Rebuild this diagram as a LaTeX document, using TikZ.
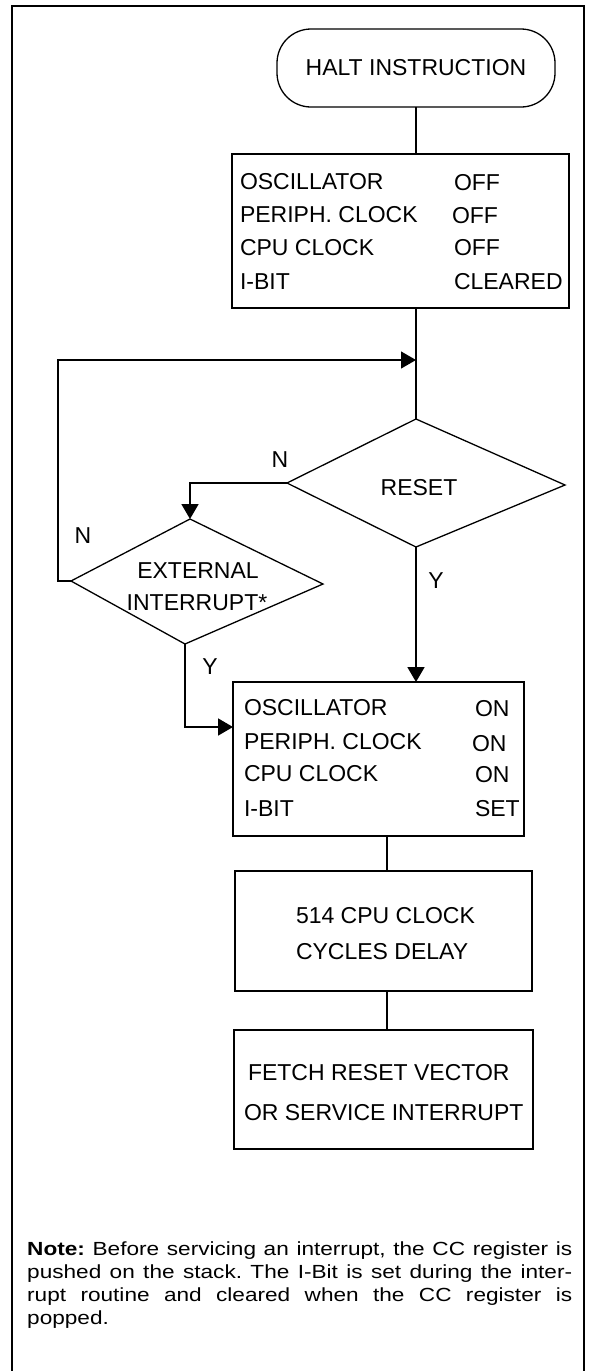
\documentclass[tikz,border=0pt]{standalone}
\usepackage{fontspec}
\setmainfont{Liberation Sans}
\newfontfamily\notefont[FakeStretch=1.19]{Liberation Sans}
\usetikzlibrary{arrows.meta}
\begin{document}
\begin{tikzpicture}[x=1pt,y=-1pt,
  txt/.style={inner sep=0pt, outer sep=0pt, font=\fontsize{23}{27}\selectfont},
  lbl/.style={txt, anchor=base west},
  ctr/.style={txt, anchor=base},
  boxs/.style={draw, line width=2pt, inner sep=0pt, outer sep=0pt},
  conn/.style={line width=1.8pt},
  arr/.style={conn, -{Triangle[length=15pt,width=17pt]}},
  dia/.style={draw, line width=1.3pt, line join=miter}
]
\useasboundingbox (0,0) rectangle (595,1371);
% frame
\draw[line width=2pt] (11.5,1371) -- (11.5,6) -- (584,6) -- (584,1371);

% terminal
\node[draw, rounded corners=34pt, line width=1.3pt, minimum width=278pt,
      minimum height=78pt, txt] (halt) at (416,68) {HALT INSTRUCTION};

% box 1
\node[boxs, minimum width=337pt, minimum height=154pt] (box1) at (400.5,231) {};
\node[lbl] (b1l1) at (240,189) {OSCILLATOR};
\node[lbl] (b1l2) at (240,222) {PERIPH. CLOCK};
\node[lbl] (b1l3) at (240,255) {CPU CLOCK};
\node[lbl] (b1l4) at (240,289) {I-BIT};
\node[lbl] (b1r1) at (454,190) {OFF};
\node[lbl] (b1r2) at (452,223) {OFF};
\node[lbl] (b1r3) at (454,255) {OFF};
\node[lbl] (b1r4) at (454,289) {CLEARED};

% merge point
\coordinate (merge) at (416,360);

% RESET diamond
\coordinate (rT) at (416,419);
\coordinate (rL) at (287,483);
\coordinate (rR) at (565,485);
\coordinate (rB) at (416,547);
\draw[dia] (rT) -- (rR) -- (rB) -- (rL) -- cycle;
\node[ctr] (resettxt) at (419,495) {RESET};

% EXTERNAL INTERRUPT diamond
\coordinate (eT) at (190,519);
\coordinate (eL) at (71,581);
\coordinate (eR) at (323,584);
\coordinate (eB) at (185,644);
\draw[dia] (eT) -- (eR) -- (eB) -- (eL) -- cycle;
\node[ctr] (exttxt1) at (198,578) {EXTERNAL};
\node[ctr] (exttxt2) at (197,610) {INTERRUPT*};

% labels
\node[ctr] (nreset) at (280,467) {N};
\node[ctr] (next) at (83,543) {N};
\node[ctr] (yreset) at (436,588) {Y};
\node[ctr] (yext) at (210,674) {Y};

% box 2
\node[boxs, minimum width=291pt, minimum height=154pt] (box2) at (378.5,759) {};
\node[lbl] (b2l1) at (244,715) {OSCILLATOR};
\node[lbl] (b2l2) at (244,749) {PERIPH. CLOCK};
\node[lbl] (b2l3) at (244,781) {CPU CLOCK};
\node[lbl] (b2l4) at (244,816) {I-BIT};
\node[lbl] (b2r1) at (475,716) {ON};
\node[lbl] (b2r2) at (472,751) {ON};
\node[lbl] (b2r3) at (475,782) {ON};
\node[lbl] (b2r4) at (475,816) {SET};
\coordinate (b2in) at (233,727);

% box 3
\node[boxs, minimum width=297pt, minimum height=120pt] (box3) at (383.5,931) {};
\node[lbl] (b3l1) at (296,923) {514 CPU CLOCK};
\node[lbl] (b3l2) at (296,959) {CYCLES DELAY};

% box 4
\node[boxs, minimum width=299pt, minimum height=119pt] (box4) at (383.5,1089.5) {};
\node[lbl] (b4l1) at (248,1080) {FETCH RESET VECTOR};
\node[lbl] (b4l2) at (244,1120) {OR SERVICE INTERRUPT};

\coordinate (cx) at (387,0);

% connectors
\draw[conn] (halt.south) -- (halt.south |- box1.north);
\draw[conn] (merge |- box1.south) -- (rT);
\draw[arr, line width=1.2pt] (eL) -- ++(-13,0) |- (merge);
\draw[arr] (rL) -| (eT);
\draw[arr] (eB) |- (b2in);
\draw[arr] (rB) -- (rB |- box2.north);
\draw[conn] (box2.south -| cx) -- (box3.north -| cx);
\draw[conn] (box3.south -| cx) -- (box4.north -| cx);

% note
\node[anchor=north west, inner sep=0pt, text width=545pt, align=justify,
      font=\notefont\fontsize{19}{22.9}\selectfont] (note) at (27,1242)
  {\noindent\frenchspacing\tolerance=10000\hbadness=10000
   \textbf{Note:} Before servicing an interrupt, the CC register is\linebreak
   pushed on the stack. The I-Bit is set during the inter-\linebreak
   rupt routine and cleared when the CC register is\linebreak
   popped.};
\end{tikzpicture}
\end{document}
